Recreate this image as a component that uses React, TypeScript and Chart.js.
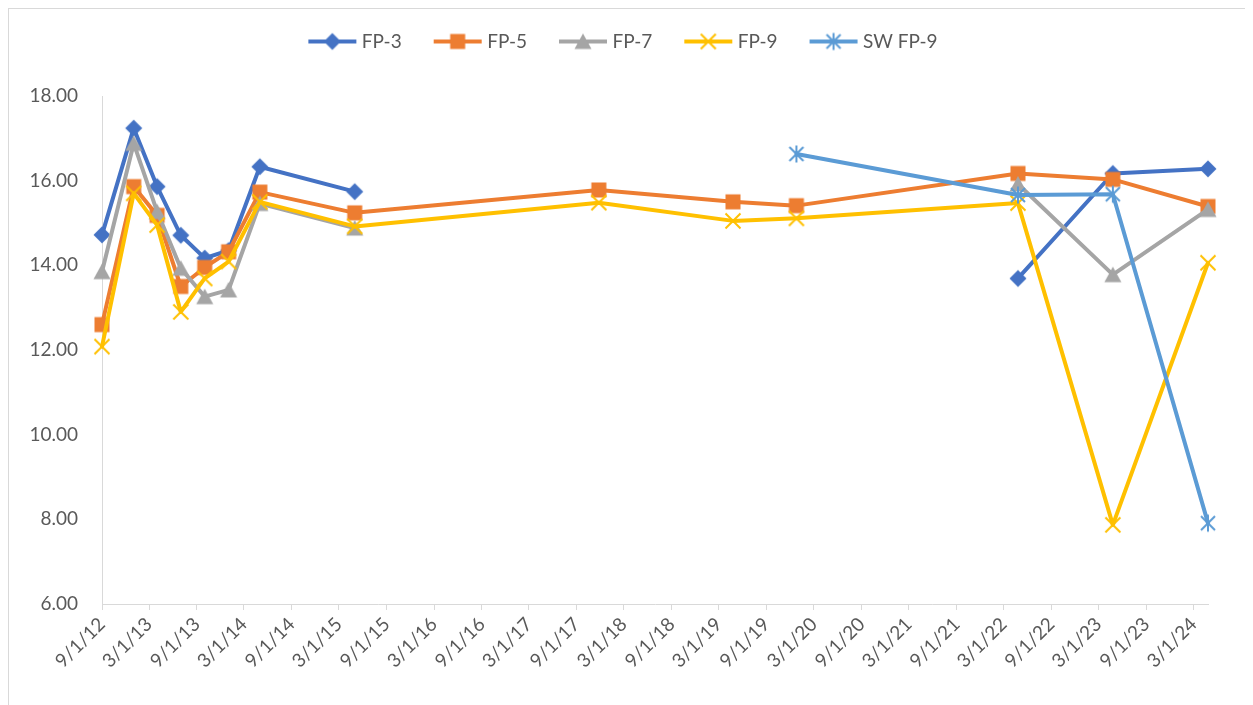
import React, { useEffect, useRef } from "react";
import { Chart, registerables } from "chart.js";

Chart.register(...registerables);

// ---------- data ----------
const sampleDates = [
  "2012-09-01", "2013-01-01", "2013-04-01", "2013-07-01", "2013-10-01",
  "2014-01-01", "2014-05-01", "2015-05-01", "2017-11-25", "2019-04-25",
  "2019-12-25", "2022-04-25", "2023-04-25", "2024-04-25",
];

const fp3 = [14.72, 17.24, 15.86, 14.71, 14.17, 14.35, 16.33, 15.74, null, null, null, 13.69, 16.17, 16.28];
const fp5 = [12.6, 15.86, 15.18, 13.5, 13.95, 14.32, 15.73, 15.24, 15.78, 15.5, 15.41, 16.17, 16.03, 15.39];
const fp7 = [13.85, 16.88, 15.27, 13.93, 13.26, 13.42, 15.46, 14.88, null, null, null, 15.92, 13.78, 15.32];
const fp9 = [12.08, 15.7, 14.95, 12.9, 13.69, 14.09, 15.5, 14.92, 15.48, 15.05, 15.11, 15.47, 7.87, 14.06];
const swFp9 = [null, null, null, null, null, null, null, null, null, null, 16.63, 15.66, 15.68, 7.91];

const seriesNames = ["FP-3", "FP-5", "FP-7", "FP-9", "SW FP-9"];
const seriesValues = [fp3, fp5, fp7, fp9, swFp9];
const seriesColors = ["#4472C4", "#ED7D31", "#A5A5A5", "#FFC000", "#5B9BD5"];
const seriesMarkers = ["diamond", "square", "triangle", "x", "star"];

const xTickLabels = [
  "9/1/12", "3/1/13", "9/1/13", "3/1/14", "9/1/14", "3/1/15", "9/1/15", "3/1/16",
  "9/1/16", "3/1/17", "9/1/17", "3/1/18", "9/1/18", "3/1/19", "9/1/19", "3/1/20",
  "9/1/20", "3/1/21", "9/1/21", "3/1/22", "9/1/22", "3/1/23", "9/1/23", "3/1/24",
];
const xStart = "2012-09-01";
const xEnd = "2024-04-25";
const yMin = 6;
const yMax = 18;
const yStep = 2;

// ---------- helpers ----------
const DAY = 86400000;
const base = Date.UTC(2012, 8, 1);
function isoToDay(s: string): number {
  const [y, m, d] = s.split("-").map(Number);
  return Math.round((Date.UTC(y, m - 1, d) - base) / DAY);
}
function mdyToDay(s: string): number {
  const [m, d, yy] = s.split("/").map(Number);
  return Math.round((Date.UTC(2000 + yy, m - 1, d) - base) / DAY);
}

const FONT = "Lato, 'Open Sans', sans-serif";
const TEXT = "#595959";
const AXIS = "#d9d9d9";

function drawMarker(ctx: CanvasRenderingContext2D, kind: string, cx: number, cy: number, color: string) {
  ctx.fillStyle = color;
  ctx.strokeStyle = color;
  ctx.lineCap = "butt";
  switch (kind) {
    case "diamond":
      ctx.beginPath();
      ctx.moveTo(cx, cy - 8.5);
      ctx.lineTo(cx + 8.5, cy);
      ctx.lineTo(cx, cy + 8.5);
      ctx.lineTo(cx - 8.5, cy);
      ctx.closePath();
      ctx.fill();
      break;
    case "square":
      ctx.fillRect(cx - 7.5, cy - 7.5, 15, 15);
      break;
    case "triangle":
      ctx.beginPath();
      ctx.moveTo(cx, cy - 8);
      ctx.lineTo(cx + 8.5, cy + 7.5);
      ctx.lineTo(cx - 8.5, cy + 7.5);
      ctx.closePath();
      ctx.fill();
      break;
    case "x":
      ctx.lineWidth = 2;
      ctx.beginPath();
      ctx.moveTo(cx - 7.5, cy - 7.5);
      ctx.lineTo(cx + 7.5, cy + 7.5);
      ctx.moveTo(cx + 7.5, cy - 7.5);
      ctx.lineTo(cx - 7.5, cy + 7.5);
      ctx.stroke();
      break;
    case "star":
      ctx.lineWidth = 2;
      ctx.beginPath();
      ctx.moveTo(cx - 7, cy - 7);
      ctx.lineTo(cx + 7, cy + 7);
      ctx.moveTo(cx + 7, cy - 7);
      ctx.lineTo(cx - 7, cy + 7);
      ctx.moveTo(cx, cy - 8.5);
      ctx.lineTo(cx, cy + 8.5);
      ctx.stroke();
      break;
  }
}

function makePointImage(kind: string, color: string): HTMLCanvasElement {
  const c = document.createElement("canvas");
  c.width = 24;
  c.height = 24;
  const ctx = c.getContext("2d")!;
  drawMarker(ctx, kind, 12, 12, color);
  return c;
}

function makeLegendImage(kind: string, color: string): HTMLCanvasElement {
  const c = document.createElement("canvas");
  c.width = 50;
  c.height = 22;
  const ctx = c.getContext("2d")!;
  ctx.strokeStyle = color;
  ctx.lineWidth = 4;
  ctx.beginPath();
  ctx.moveTo(1, 11);
  ctx.lineTo(49, 11);
  ctx.stroke();
  drawMarker(ctx, kind, 25, 11, color);
  return c;
}

const legendSpacer = {
  id: "legendSpacer",
  beforeLayout(chart: any) {
    const lg = chart.legend;
    if (lg && !lg.__patched) {
      const orig = lg.fit;
      lg.fit = function () {
        orig.call(this);
        this.height = 100;
      };
      lg.__patched = true;
    }
  },
};

export default function App() {
  const canvasRef = useRef<HTMLCanvasElement | null>(null);

  useEffect(() => {
    document.body.style.overflow = "hidden";
    const canvas = canvasRef.current;
    if (!canvas) return;

    const sampleDays = sampleDates.map(isoToDay);
    const tickDays = xTickLabels.map(mdyToDay);
    const pointImgs = seriesMarkers.map((m, i) => makePointImage(m, seriesColors[i]));
    const legendImgs = seriesMarkers.map((m, i) => makeLegendImage(m, seriesColors[i]));

    const datasets = seriesNames.map((name, i) => ({
      label: name,
      data: sampleDays.map((x, j) => ({ x, y: seriesValues[i][j] })),
      borderColor: seriesColors[i],
      backgroundColor: seriesColors[i],
      borderWidth: 4,
      borderJoinStyle: "round" as const,
      borderCapStyle: "round" as const,
      pointStyle: pointImgs[i],
      pointRadius: 8,
      pointHoverRadius: 8,
      tension: 0,
      spanGaps: false,
      clip: false as const,
      order: seriesNames.length - i,
      yAxisID: "y",
    }));

    const chart = new Chart(canvas, {
      type: "line",
      data: { datasets },
      plugins: [legendSpacer],
      options: {
        responsive: false,
        animation: false,
        events: [],
        layout: { padding: { left: 0, right: 12, top: 0, bottom: 0 } },
        plugins: {
          tooltip: { enabled: false },
          title: { display: false },
          legend: {
            display: true,
            position: "top",
            align: "center",
            labels: {
              usePointStyle: true,
              pointStyleWidth: 40,
              padding: 36,
              color: TEXT,
              font: { family: FONT, size: 19 },
              generateLabels: () =>
                seriesNames.map((n, i) => ({
                  text: n,
                  pointStyle: legendImgs[i] as any,
                  fillStyle: seriesColors[i],
                  strokeStyle: seriesColors[i],
                  lineWidth: 0,
                  hidden: false,
                  datasetIndex: i,
                  fontColor: TEXT,
                })),
            },
          },
        },
        scales: {
          x: {
            type: "linear",
            position: "bottom",
            min: isoToDay(xStart),
            max: isoToDay(xEnd),
            bounds: "data",
            afterBuildTicks: (scale: any) => {
              scale.ticks = tickDays.map((v) => ({ value: v }));
            },
            afterFit: (scale: any) => {
              scale.height = 80;
            },
            grid: {
              display: true,
              drawOnChartArea: false,
              drawTicks: true,
              tickLength: 6,
              color: AXIS,
              lineWidth: 1,
            },
            border: { display: true, color: AXIS, width: 1 },
            ticks: {
              autoSkip: false,
              maxRotation: 45,
              minRotation: 45,
              padding: 3,
              color: TEXT,
              font: { family: FONT, size: 19 },
              callback: (value: any) => {
                const idx = tickDays.indexOf(Number(value));
                return idx >= 0 ? xTickLabels[idx] : "";
              },
            },
          },
          y: {
            type: "linear",
            position: "left",
            min: yMin,
            max: yMax,
            afterFit: (scale: any) => {
              scale.width = 93;
            },
            grid: { display: false, drawTicks: false },
            border: { display: true, color: AXIS, width: 1 },
            ticks: {
              stepSize: yStep,
              padding: 24,
              color: TEXT,
              font: { family: FONT, size: 19 },
              callback: (v: any) => Number(v).toFixed(2),
            },
          },
          y2: {
            type: "linear",
            position: "right",
            display: true,
            afterFit: (scale: any) => {
              scale.width = 33;
            },
            grid: { display: false, drawTicks: false },
            border: { display: false },
            ticks: { display: false },
          },
        },
      },
    });

    return () => {
      chart.destroy();
    };
  }, []);

  return (
    <div
      style={{
        position: "relative",
        width: 1245,
        height: 697,
        boxSizing: "border-box",
        borderLeft: "1px solid #d9d9d9",
        borderTop: "1px solid #d9d9d9",
        overflow: "hidden",
        background: "#ffffff",
      }}
    >
      <canvas
        ref={canvasRef}
        width={1244}
        height={688}
        style={{ position: "absolute", left: 0, top: -13, width: 1244, height: 688 }}
      />
    </div>
  );
}
